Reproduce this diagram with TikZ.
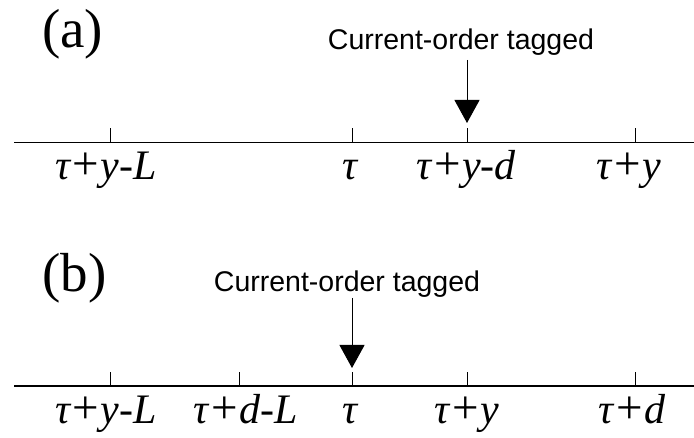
\documentclass[tikz,border=0pt]{standalone}
\usepackage{fontspec}
\setmainfont{Liberation Serif}
\newfontfamily\arialf{Liberation Sans}
\usetikzlibrary{arrows.meta}
\newcommand{\ti}[1]{\textit{#1}}
\newcommand{\pls}{\hspace{1.5pt}{\fontsize{47}{47}\selectfont+}\hspace{1.5pt}}
\begin{document}
\begin{tikzpicture}[x=1pt,y=-1pt,
  axisline/.style={line width=1.5pt},
  tickline/.style={line width=1pt},
  lbl/.style={anchor=base, inner sep=0pt, font=\fontsize{42}{42}\selectfont},
  panel/.style={anchor=base west, inner sep=0pt, font=\fontsize{55}{55}\selectfont},
  tag/.style={anchor=base, inner sep=0pt, font=\arialf\fontsize{28.5}{28.5}\selectfont},
  pointer/.style={line width=1pt, -{Triangle[width=25pt,length=23pt]}}]
\useasboundingbox (0,0) rectangle (694,438);
% ---------------- panel (a)
\node[panel] (pa) at (42,48) {(a)};
\coordinate (a0) at (14,142.5);
\coordinate (a1) at (694,142.5);
\draw[axisline] (a0) -- (a1);
\foreach \n/\x in {t1/110, t2/352, t3/467, t4/635}{
  \coordinate (a\n) at (\x,142.5);
  \coordinate (a\n top) at (\x,128);
  \draw[tickline] (a\n) -- (a\n top);
}
\node[lbl] (la1) at (106,180) {\ti{τ}\pls\ti{y}-\ti{L}};
\node[lbl] (la2) at (351,180) {\ti{τ}};
\node[lbl] (la3) at (466,180) {\ti{τ}\pls\ti{y}-\ti{d}};
\node[lbl] (la4) at (629,180) {\ti{τ}\pls\ti{y}};
\node[tag] (taga) at (461,50) {Current-order tagged};
\coordinate (pa0) at (467,60);
\coordinate (pa1) at (467,123);
\draw[pointer] (pa0) -- (pa1);
% ---------------- panel (b)
\node[panel] (pb) at (42,291.5) {(b)};
\coordinate (b0) at (14,386);
\coordinate (b1) at (694,386);
\draw[axisline] (b0) -- (b1);
\foreach \n/\x in {t1/110, t2/239, t3/352, t4/467, t5/635}{
  \coordinate (b\n) at (\x,386);
  \coordinate (b\n top) at (\x,372.5);
  \draw[tickline] (b\n) -- (b\n top);
}
\node[lbl] (lb1) at (106,423.5) {\ti{τ}\pls\ti{y}-\ti{L}};
\node[lbl] (lb2) at (246,423.5) {\ti{τ}\pls\ti{d}-\ti{L}};
\node[lbl] (lb3) at (351,423.5) {\ti{τ}};
\node[lbl] (lb4) at (467,423.5) {\ti{τ}\pls\ti{y}};
\node[lbl] (lb5) at (632,423.5) {\ti{τ}\pls\ti{d}};
\node[tag] (tagb) at (347,292) {Current-order tagged};
\coordinate (pb0) at (352,298);
\coordinate (pb1) at (352,368);
\draw[pointer] (pb0) -- (pb1);
\end{tikzpicture}
\end{document}
